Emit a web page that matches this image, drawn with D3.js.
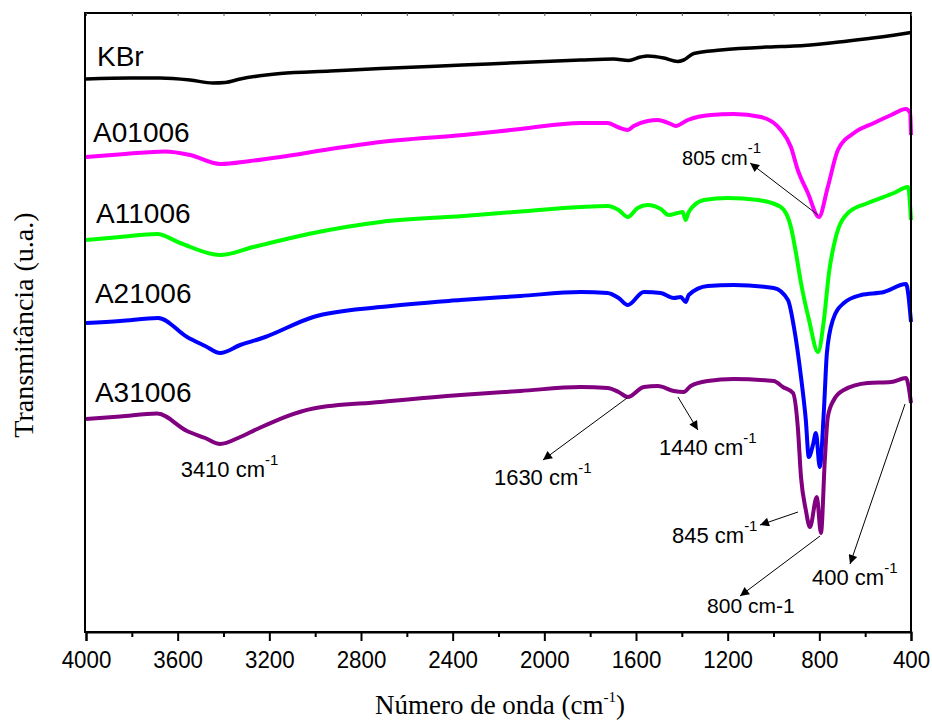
<!DOCTYPE html>
<html>
<head>
<meta charset="utf-8">
<script src="https://cdn.jsdelivr.net/npm/d3@7"></script>
<style>
  html, body { margin: 0; padding: 0; background: #fff; }
  svg { display: block; }
</style>
</head>
<body>
<svg id="chart" width="932" height="721"></svg>
<script>
// ---------------- DATA (wavenumber cm^-1, transmittance u.a.) ----------------
const xTicks = [4000, 3600, 3200, 2800, 2400, 2000, 1600, 1200, 800, 400];
const xMinorTicks = [3800, 3400, 3000, 2600, 2200, 1800, 1400, 1000, 600];

const seriesNames = ["KBr", "A01006", "A11006", "A21006", "A31006"];
const seriesColors = ["#000000", "#ff00ff", "#00ff00", "#0000ff", "#800080"];

const kbr = [[4000,55.3],[3808,55.4],[3677,55.4],[3546,55.2],[3445,54.9],[3393,54.95],[3327,55.3],
  [3152,55.85],[2934,56.1],[2715,56.35],[2357,56.7],[2104,56.95],[1842,57.2],[1698,57.3],[1632,57.15],
  [1580,57.5],[1549,57.6],[1479,57.4],[1418,57.05],[1392,57.2],[1348,57.85],[1230,58.2],[968,58.55],
  [867,58.65],[675,59.1],[531,59.5],[400,59.95]];

const a01006 = [[4000,47.5],[3830,47.8],[3655,48.05],[3546,47.7],[3415,46.8],[3283,47.1],[3152,47.5],
  [2934,48.3],[2715,49.0],[2353,49.7],[2104,50.3],[1842,50.9],[1724,50.9],[1680,50.5],[1636,50.2],
  [1610,50.6],[1549,51.1],[1505,51.2],[1449,50.8],[1427,50.6],[1374,51.2],[1274,51.7],[1173,51.8],
  [1055,51.5],[968,50.2],[924,48.5],[894,46.2],[850,43.9],[802,41.5],[763,44.5],[719,48.2],[649,49.9],
  [562,50.9],[487,51.7],[422,52.3],[404,51.9],[400,49.7]];

const a11006 = [[4000,39.2],[3851,39.5],[3690,39.8],[3589,38.9],[3415,37.7],[3270,38.5],[3008,39.9],
  [2715,41.0],[2353,41.6],[2104,42.05],[1842,42.5],[1724,42.6],[1676,42.2],[1636,41.5],[1593,42.4],
  [1549,42.7],[1492,42.3],[1457,41.7],[1418,41.9],[1396,42.0],[1383,41.2],[1370,42.0],[1304,43.2],
  [1199,43.4],[1068,43.2],[968,42.5],[924,40.5],[902,37.9],[880,34.9],[845,31.2],[806,28.0],[780,31.2],
  [758,35.9],[728,39.5],[675,41.9],[588,42.9],[474,43.9],[413,44.5],[400,41.2]];

const a21006 = [[4000,30.9],[3851,31.1],[3685,31.4],[3559,29.5],[3480,28.6],[3415,27.9],[3327,28.7],
  [3218,29.5],[3008,31.5],[2715,32.5],[2366,33.2],[2104,33.6],[1842,34.0],[1724,33.9],[1676,33.4],
  [1636,32.7],[1566,34.0],[1492,33.9],[1435,33.4],[1405,33.5],[1383,33.0],[1370,33.7],[1287,34.6],
  [1173,34.7],[999,34.4],[937,33.2],[911,30.5],[880,25.5],[859,21.2],[846,17.5],[828,18.7],[815,19.9],
  [798,16.5],[780,22.2],[767,27.9],[741,31.2],[693,32.9],[618,33.7],[518,34.0],[422,34.8],[400,31.0]];

const a31006 = [[4000,21.3],[3851,21.55],[3690,21.85],[3559,20.1],[3480,19.4],[3415,18.8],[3327,19.5],
  [3253,20.3],[3008,22.35],[2715,23.0],[2366,23.7],[2104,24.1],[1842,24.5],[1724,24.4],[1676,24.0],
  [1636,23.5],[1566,24.5],[1505,24.6],[1435,24.1],[1392,24.0],[1361,24.6],[1287,25.1],[1173,25.3],
  [999,25.1],[959,24.5],[915,23.9],[894,20.5],[880,15.5],[859,12.2],[841,10.5],[811,13.5],[793,9.9],
  [776,17.2],[763,21.5],[737,23.2],[693,24.2],[588,24.9],[487,25.0],[422,25.4],[400,22.9]];

const seriesData = [kbr, a01006, a11006, a21006, a31006];
// label anchor: wavenumber + value (baseline)
const labelWn = [3952, 3969, 3956, 3961, 3961];
const labelVal = [56.6, 49.0, 40.9, 32.9, 23.0];

// annotations: text position (wn, val), arrow from (wn, val) to tip (wn, val), superscript flag
const annText = ["805 cm", "3410 cm", "1630 cm", "1440 cm", "845 cm", "800 cm-1", "400 cm"];
const annSup = [true, true, true, true, true, false, true];
const annSize = [20, 22, 22, 22, 22, 21, 22];
const annPos = [[1399, 46.7], [3587, 15.5], [2220, 14.7], [1500, 17.7], [1443, 8.9], [1290, 1.9], [832, 4.7]];
const annFrom = [[806, 41.7], null, [1639, 23.4], [1417, 23.5], [893, 12.0], [797, 9.6], [426, 22.8]];
const annTo = [[1102, 46.9], null, [2006, 17.2], [1330, 20.2], [1059, 10.7], [1146, 3.6], [666, 6.8]];

// ---------------- CHART ----------------
const svg = d3.select("#chart");
const pLeft = 86, pRight = 911, pTop = 13, pBottom = 632;
const x = d3.scaleLinear().domain([4000, 400]).range([pLeft, pRight]);
const y = d3.scaleLinear().domain([0, 61.9]).range([pBottom, pTop]);

const sans = "'Liberation Sans', Arial, sans-serif";
const serif = "'Liberation Serif', 'Times New Roman', serif";

svg.append("rect").attr("width", 932).attr("height", 721).attr("fill", "#fff");

// arrow marker
svg.append("defs").append("marker")
  .attr("id", "arr").attr("viewBox", "0 0 10 10").attr("refX", 10).attr("refY", 5)
  .attr("markerWidth", 13).attr("markerHeight", 9).attr("markerUnits", "userSpaceOnUse")
  .attr("orient", "auto")
  .append("path").attr("d", "M0,0 L10,5 L0,10 z").attr("fill", "#000");

// curves
const line = d3.line().x(d => x(d[0])).y(d => y(d[1])).curve(d3.curveMonotoneX);
seriesData.forEach((s, i) => {
  svg.append("path").datum(s).attr("d", line)
    .attr("fill", "none").attr("stroke", seriesColors[i])
    .attr("stroke-width", i === 0 ? 3.5 : 4).attr("stroke-linejoin", "round");
});

// frame
svg.append("rect").attr("x", pLeft - 1).attr("y", pTop).attr("width", pRight - pLeft + 1).attr("height", pBottom - pTop)
  .attr("fill", "none").attr("stroke", "#000").attr("stroke-width", 2);

// bottom axis major
const axB = svg.append("g").attr("transform", `translate(0,${pBottom})`)
  .call(d3.axisBottom(x).tickValues(xTicks).tickSize(9).tickPadding(10).tickFormat(d3.format("d")));
axB.select(".domain").attr("stroke-width", 2);
axB.selectAll(".tick line").attr("stroke-width", 2);
axB.selectAll(".tick text").attr("font-family", sans).attr("font-size", 24).attr("fill", "#000")
  .attr("transform", "scale(0.93,1)");
// bottom minor
const axBm = svg.append("g").attr("transform", `translate(0,${pBottom})`)
  .call(d3.axisBottom(x).tickValues(xMinorTicks).tickSize(5).tickFormat(""));
axBm.select(".domain").remove();
axBm.selectAll(".tick line").attr("stroke-width", 2);
// top ticks (small, inward)
const axT = svg.append("g").attr("transform", `translate(0,${pTop})`)
  .call(d3.axisTop(x).tickValues(xTicks.concat(xMinorTicks)).tickSize(-3).tickFormat(""));
axT.select(".domain").remove();
axT.selectAll(".tick line").attr("stroke-width", 1).attr("stroke", "#555");

// series labels
seriesNames.forEach((n, i) => {
  svg.append("text").attr("x", x(labelWn[i])).attr("y", y(labelVal[i]))
    .attr("font-family", sans).attr("font-size", 28).attr("fill", "#000").text(n);
});

// annotations
annText.forEach((t, i) => {
  const tx = svg.append("text").attr("x", x(annPos[i][0])).attr("y", y(annPos[i][1]))
    .attr("font-family", sans).attr("font-size", annSize[i]).attr("fill", "#000");
  tx.append("tspan").text(t);
  if (annSup[i]) tx.append("tspan").attr("dy", -12).attr("font-size", 15).text("-1");
  if (annFrom[i]) {
    svg.append("line")
      .attr("x1", x(annFrom[i][0])).attr("y1", y(annFrom[i][1]))
      .attr("x2", x(annTo[i][0])).attr("y2", y(annTo[i][1]))
      .attr("stroke", "#000").attr("stroke-width", 1).attr("marker-end", "url(#arr)");
  }
});

// axis titles
const xt = svg.append("text").attr("x", 500).attr("y", 714).attr("text-anchor", "middle")
  .attr("font-family", serif).attr("font-size", 27).attr("fill", "#000");
xt.append("tspan").text("Número de onda (cm");
xt.append("tspan").attr("dy", -12).attr("font-size", 15).text("-1");
xt.append("tspan").attr("dy", 12).text(")");

svg.append("text").attr("transform", "translate(33,325) rotate(-90)").attr("text-anchor", "middle")
  .attr("font-family", serif).attr("font-size", 28).attr("fill", "#000").text("Transmitância (u.a.)");
</script>
</body>
</html>
